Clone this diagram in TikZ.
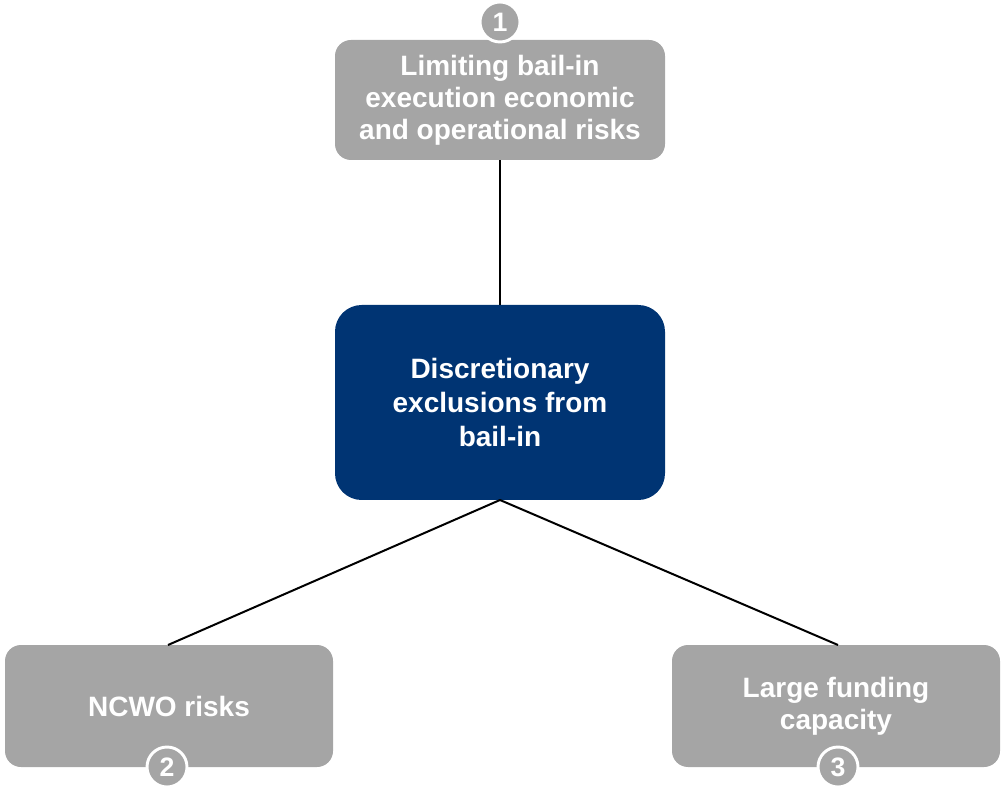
\documentclass[tikz,border=0pt]{standalone}
\usepackage{fontspec}
\setmainfont{Liberation Sans}
\definecolor{boxgray}{HTML}{A5A5A5}
\definecolor{navy}{HTML}{003473}
\begin{document}
\begin{tikzpicture}[x=0.75pt,y=-0.75pt,
  graybox/.style={draw=none,fill=boxgray,rounded corners=12pt,text=white,
    font=\bfseries\fontsize{21}{24}\selectfont,align=center,inner sep=0pt},
  navybox/.style={draw=none,fill=navy,rounded corners=20pt,text=white,
    font=\bfseries\fontsize{21}{25.5}\selectfont,align=center,inner sep=0pt},
  numcirc/.style={circle,fill=boxgray,draw=white,line width=2.2pt,minimum size=30pt,
    inner sep=0pt,text=white,font=\bfseries\fontsize{20}{20}\selectfont},
  link/.style={draw=black,line width=1.5pt}]
\useasboundingbox (0,0) rectangle (1003,787);
\node[graybox,minimum width=247.5pt,minimum height=90pt] (top) at (500,100)
  {Limiting bail-in\\execution economic\\and operational risks};
\node[navybox,minimum width=247.5pt,minimum height=146.25pt] (mid) at (500,402.5)
  {Discretionary\\exclusions from\\bail-in};
\node[graybox,minimum width=246pt,minimum height=91.5pt] (left) at (169,706)
  {NCWO risks};
\node[graybox,minimum width=246pt,minimum height=91.5pt] (right) at (836,706)
  {Large funding\\capacity};
\coordinate (mb) at (500,500);
\coordinate (lt) at (168,645);
\coordinate (rt) at (838,645);
\draw[link] (top.south) -- (mid.north);
\draw[link] (mb) -- (lt);
\draw[link] (mb) -- (rt);
\node[numcirc] (c1) at (500,22) {1};
\node[numcirc] (c2) at (167,767) {2};
\node[numcirc] (c3) at (838,767) {3};
\end{tikzpicture}
\end{document}
